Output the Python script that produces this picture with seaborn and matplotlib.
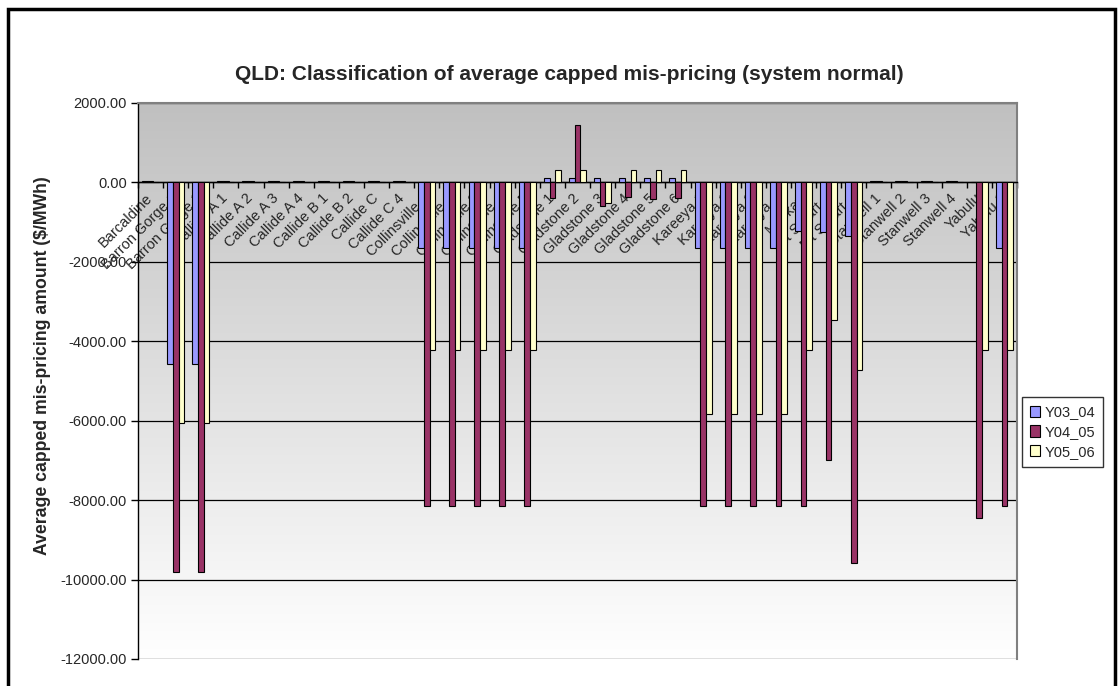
import numpy as np
import pandas as pd
import matplotlib
matplotlib.use("Agg")
import matplotlib.pyplot as plt
import matplotlib.transforms as mtransforms
from matplotlib.patches import Rectangle
import seaborn as sns

# stations along the x axis
stations = ["Barcaldine", "Barron Gorge 1", "Barron Gorge 2", "Callide A 1", "Callide A 2",
            "Callide A 3", "Callide A 4", "Callide B 1", "Callide B 2", "Callide C",
            "Callide C 4", "Collinsville 1", "Collinsville 2", "Collinsville 3",
            "Collinsville 4", "Collinsville 5", "Gladstone 1", "Gladstone 2", "Gladstone 3",
            "Gladstone 4", "Gladstone 5", "Gladstone 6", "Kareeya 1", "Kareeya 2",
            "Kareeya 3", "Kareeya 4", "Mackay", "Mt Stuart 1", "Mt Stuart 2", "Stanwell 1",
            "Stanwell 2", "Stanwell 3", "Stanwell 4", "Yabulu", "Yabulu 2"]

series = ["Y03_04", "Y04_05", "Y05_06"]

# average capped mis-pricing, $/MWh
y03_04 = [30, -4560, -4560, 30, 30, 30, 30, 30, 30, 30, 30,
          -1650, -1650, -1650, -1650, -1650,
          120, 120, 120, 120, 120, 120,
          -1650, -1650, -1650, -1650, -1225, -1250, -1350,
          30, 30, 30, 30, 0, -1650]
y04_05 = [25, -9810, -9810, 25, 25, 25, 25, 25, 25, 25, 25,
          -8150, -8150, -8150, -8150, -8150,
          -400, 1450, -590, -375, -425, -400,
          -8150, -8150, -8150, -8150, -8150, -6980, -9580,
          25, 25, 25, 25, -8440, -8150]
y05_06 = [0, -6045, -6045, 0, 0, 0, 0, 0, 0, 0, 0,
          -4220, -4220, -4220, -4220, -4220,
          310, 310, -525, 310, 310, 310,
          -5840, -5840, -5840, -5840, -4220, -3470, -4730,
          0, 0, 0, 0, -4220, -4220]

colors = ["#9999FF", "#993366", "#FFFFCC"]

df = pd.DataFrame({"station": stations * 3,
                   "series": np.repeat(series, len(stations)),
                   "value": y03_04 + y04_05 + y05_06})

sns.set_style("white")
plt.rcParams["font.family"] = ["Liberation Sans", "DejaVu Sans"]

fig = plt.figure(figsize=(11.19, 6.86), dpi=100)
ax = fig.add_axes([138 / 1119, 1 - 659 / 686, (1017 - 138) / 1119, (659 - 103) / 686])

# grey-to-white gradient behind the plot area
grad = np.linspace(0, 1, 256).reshape(-1, 1)
ax.imshow(grad, cmap=matplotlib.colors.LinearSegmentedColormap.from_list("g", ["#c0c0c0", "#ffffff"]),
          extent=[-0.5, 34.5, -12000, 2000], aspect="auto", zorder=0, origin="upper")

for v in range(-12000, 2001, 2000):
    ax.axhline(v, color="black", lw=0.9, zorder=1)

sns.barplot(data=df, x="station", y="value", hue="series", order=stations,
            hue_order=series, palette=colors, width=0.68, edgecolor="black",
            linewidth=0.8, saturation=1, ax=ax, zorder=3, errorbar=None)

ax.set_xlim(-0.5, 34.5)
ax.set_ylim(-12000, 2000)
ax.set_yticks(range(-12000, 2001, 2000))
ax.set_yticklabels([f"{v:.2f}" for v in range(-12000, 2001, 2000)], fontsize=10.5)
ax.tick_params(axis="y", direction="out", length=5, width=1, color="black", left=True, pad=3)

# category axis sits on the zero line
ax.spines["bottom"].set_position(("data", 0))
ax.spines["bottom"].set_color("black")
ax.spines["bottom"].set_linewidth(1)
ax.spines["left"].set_color("black")
ax.spines["left"].set_linewidth(1)
ax.spines["top"].set_color("#808080")
ax.spines["right"].set_color("#808080")
ax.spines["top"].set_linewidth(1.5)
ax.spines["right"].set_linewidth(1.5)

ax.set_xticks(range(len(stations)))
ax.set_xticks(np.arange(-0.5, len(stations), 1), minor=True)
ax.tick_params(axis="x", which="major", length=0, pad=4)
ax.tick_params(axis="x", which="minor", direction="out", length=4, width=1, color="black", bottom=True)
ax.set_xticklabels(stations, rotation=45, ha="right", va="top", rotation_mode="anchor", fontsize=10.5)
offset = mtransforms.ScaledTranslation(-5 / 100, -3 / 100, fig.dpi_scale_trans)
for lab in ax.get_xticklabels():
    lab.set_transform(lab.get_transform() + offset)

ax.set_xlabel("")
ax.set_ylabel("Average capped mis-pricing amount ($/MWh)", fontsize=12.7, fontweight="bold")
ax.yaxis.set_label_coords(-0.099, 0.527)

fig.suptitle("QLD: Classification of average capped mis-pricing (system normal)",
             x=569 / 1119, y=1 - 75 / 686, va="center", fontsize=15, fontweight="bold")

handles, labels = ax.get_legend_handles_labels()
ax.get_legend().remove()
leg = fig.legend(handles, labels, loc="center left", bbox_to_anchor=(1022 / 1119, 1 - 432 / 686),
                 fontsize=10.5, frameon=True, fancybox=False, handlelength=0.7, handleheight=0.8,
                 handletextpad=0.3, borderpad=0.55, labelspacing=0.4, borderaxespad=0)
leg.get_frame().set_edgecolor("black")
leg.get_frame().set_linewidth(1)

# outer chart border
fig.add_artist(Rectangle((8 / 1119, -0.05), (1115 - 8) / 1119, 1.05 - 9 / 686,
                         transform=fig.transFigure, fill=False, edgecolor="black", lw=2.5))

fig.savefig("out.png", dpi=100)
